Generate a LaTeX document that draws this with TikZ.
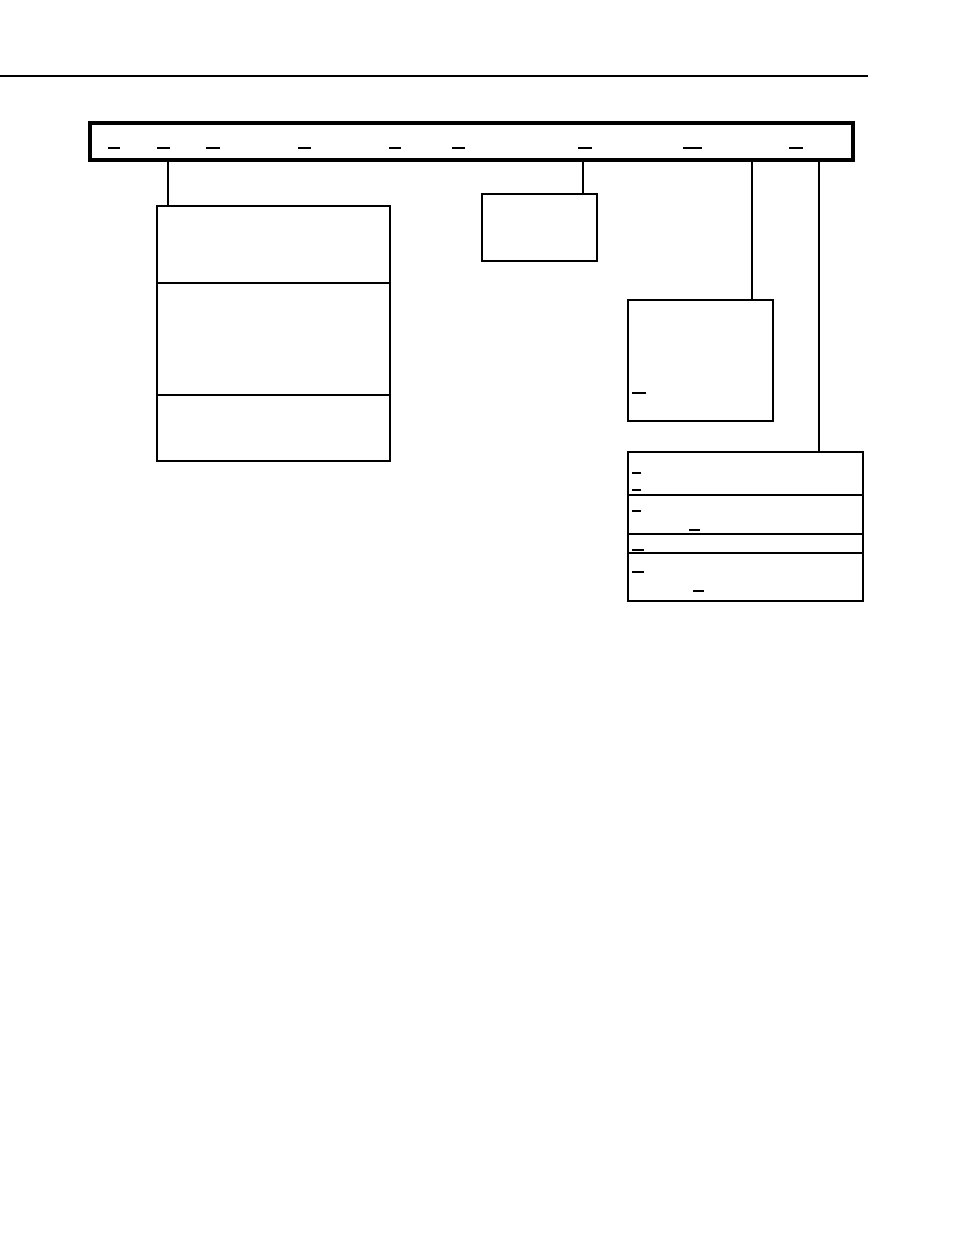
\documentclass[tikz,border=0pt]{standalone}
\usepackage{tikz}
\usetikzlibrary{fit}
\usetikzlibrary{positioning}
\usetikzlibrary{calc}

\begin{document}
\begin{tikzpicture}[
            x = 0.75pt, y = -0.75pt, % pixel grid of the page
            semithick % line style
        ]

        \tikzset{
            box/.style = {draw, line width = 1.5pt, inner sep = 0pt},
            bar/.style = {draw, line width = 3pt, inner sep = 0pt},
            sep/.style = {line width = 1.1pt},
            link/.style = {line width = 1.1pt},
            blank/.style = {line width = 0.9pt}
        }

        \useasboundingbox (0,0) rectangle (954,1235);

        % page rule
        \coordinate (ruleL) at (0,76);
        \coordinate (ruleR) at (868,76);
        \draw[line width = 1.1pt] (ruleL) -- (ruleR);

	% record bar
        \node[bar, fit = {(90,123) (853,160)}] (rec) {};
        \foreach \a/\b in {108/120, 157/170, 206/220, 298/311, 389/401,
                           452/465, 578/592, 683/702, 789/803}
            \draw[blank] (\a,148) -- (\b,148);

         % field boxes
         \node[box, fit = {(157,206) (390,461)}] (mode) {};
         \node[box, fit = {(482,194) (597,261)}] (flag) {};
         \node[box, fit = {(628,300) (773,421)}] (addr) {};
         \node[box, fit = {(628,452) (863,601)}] (opts) {};

         % dividers
         \draw[sep] (mode.west |- 0,283) -- (mode.east |- 0,283);
         \draw[sep] (mode.west |- 0,395) -- (mode.east |- 0,395);
         \draw[sep] (opts.west |- 0,495) -- (opts.east |- 0,495);
         \draw[sep] (opts.west |- 0,534) -- (opts.east |- 0,534);
         \draw[sep] (opts.west |- 0,553) -- (opts.east |- 0,553);

         % blanks inside boxes
         \foreach \a/\b/\y in {632/646/393, 632/641/473, 632/641/490,
                               632/641/511, 689/700/530, 632/644/550,
                               632/644/572, 693/704/591}
             \draw[blank] (\a,\y) -- (\b,\y);

         % links
         \coordinate (k1) at (168,0);
         \coordinate (k2) at (583,0);
         \coordinate (k3) at (752,0);
         \coordinate (k4) at (819,0);
         \draw[link] (rec.south -| k1) -- (mode.north -| k1);
         \draw[link] (rec.south -| k2) -- (flag.north -| k2);
         \draw[line width = 1.8pt] (rec.south -| k3) -- (addr.north -| k3);
         \draw[link] (rec.south -| k4) -- (opts.north -| k4);

  \end{tikzpicture}
\end{document}
